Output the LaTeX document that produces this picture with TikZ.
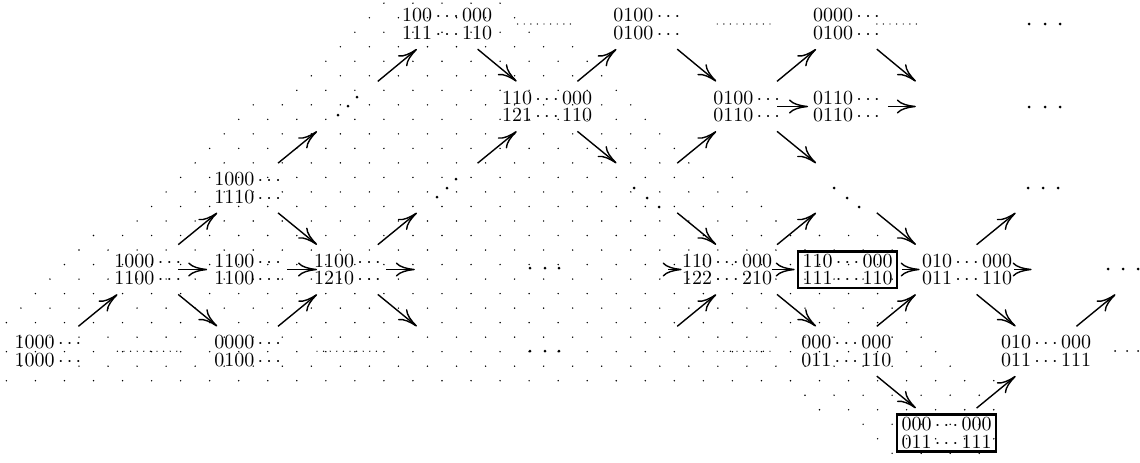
\documentclass[tikz,border=0pt]{standalone}
\usetikzlibrary{arrows.meta}
\begin{document}
\begin{tikzpicture}[x=0.5pt,y=-0.5pt,
  pn/.style={rectangle, minimum width=30pt, minimum height=25pt, inner sep=0pt},
  tn/.style={inner sep=0pt, align=center, font=\fontsize{10}{8.9}\selectfont},
  bx/.style={tn, draw, line width=1.3pt, minimum width=49.5pt, minimum height=18.3pt},
  ar/.style={-{Computer Modern Rightarrow[length=9.5pt,width=7pt]}, line width=0.7pt},
  dl/.style={line width=0.7pt, line cap=round, dash pattern=on 0pt off 3.3pt},
  bigdot/.style={fill=black},
]
\useasboundingbox (0,0) rectangle (1140,462);

% background lattice of dots
\foreach \j/\a/\b in {26/26/34, 25/25/35, 24/24/36, 23/23/39, 22/22/40, 21/21/41,
  20/20/42, 19/17/43, 18/16/44, 17/15/45, 16/14/46, 15/13/47, 14/12/50, 13/11/51,
  12/10/52, 11/9/53, 10/6/60, 9/5/61, 8/4/60, 7/3/61, 6/2/60, 5/1/61, 4/0/62,
  3/1/63, 2/0/64, 1/1/65, 0/0/68, -1/55/67, -2/56/68, -3/59/67, -4/60/68, -5/61/67}{
  \pgfmathtruncatemacro{\n}{(\b-\a)/2}
  \foreach \k in {0,...,\n}{
    \fill ({6.4+14.52*(\a+2*\k)},{380.7-14.52*(\j)}) circle (0.4pt);
  }
}

% grid positions
\foreach \c in {0,...,11}{
  \foreach \r/\y in {0/24,1/106.5,2/188,3/269.5,4/351.2,5/433}{
    \node[pn] (p\c-\r) at ({48+99.8*\c},\y) {};
  }
}

% text nodes
\node[tn] (A0) at (p4-0) {$100\cdots000$\\$111\cdots110$};
\node[tn] (B0) at (p6-0) {$0100\cdots$\\$0100\cdots$};
\node[tn] (C0) at (p8-0) {$0000\cdots$\\$0100\cdots$};
\node[tn] (A1) at (p5-1) {$110\cdots000$\\$121\cdots110$};
\node[tn] (B1) at (p7-1) {$0100\cdots$\\$0110\cdots$};
\node[tn] (C1) at (p8-1) {$0110\cdots$\\$0110\cdots$};
\node[tn] (A2) at (p2-2) {$1000\cdots$\\$1110\cdots$};
\node[tn] (A3) at (p1-3) {$1000\cdots$\\$1100\cdots$};
\node[tn] (B3) at (p2-3) {$1100\cdots$\\$1100\cdots$};
\node[tn] (C3) at (p3-3) {$1100\cdots$\\$1210\cdots$};
\node[tn] (D3) at (727,269.5) {$110\cdots000$\\$122\cdots210$};
\node[bx] (X1) at (847.5,269.5) {$110\cdots000$\\$111\cdots110$};
\node[tn] (E3) at (967,269.5) {$010\cdots000$\\$011\cdots110$};
\node[tn] (A4) at (p0-4) {$1000\cdots$\\$1000\cdots$};
\node[tn] (B4) at (p2-4) {$0000\cdots$\\$0100\cdots$};
\node[tn] (C4) at (p8-4) {$000\cdots000$\\$011\cdots110$};
\node[tn] (D4) at (p10-4) {$010\cdots000$\\$011\cdots111$};
\node[bx] (X2) at (946.5,433) {$000\cdots000$\\$011\cdots111$};

% arrows
\draw[ar] (p0-4) -- (p1-3);
\draw[ar] (p1-3) -- (p2-2);
\draw[ar,shorten >=5pt] (p1-3) -- (p2-3);
\draw[ar] (p1-3) -- (p2-4);
\draw[ar] (p2-2) -- (p3-1);
\draw[ar] (p2-2) -- (p3-3);
\draw[ar,shorten <=4.5pt] (p2-3) -- (p3-3);
\draw[ar] (p2-4) -- (p3-3);
\draw[ar] (p3-3) -- (p4-2);
\draw[ar,shorten <=4pt,shorten >=1pt] (p3-3) -- (p4-3);
\draw[ar] (p3-3) -- (p4-4);
\draw[ar] (p3-1) -- (p4-0);
\draw[ar] (p4-0) -- (p5-1);
\draw[ar] (p4-2) -- (p5-1);
\draw[ar] (p5-1) -- (p6-0);
\draw[ar] (p5-1) -- (p6-2);
\draw[ar] (p6-0) -- (p7-1);
\draw[ar] (p6-2) -- (p7-1);
\draw[ar] (p6-2) -- (p7-3);
\draw[ar,shorten <=-4.5pt] (p6-3) -- (D3);
\draw[ar] (p6-4) -- (p7-3);
\draw[ar,shorten >=4pt] (p7-1) -- (p8-1);
\draw[ar] (p7-1) -- (p8-0);
\draw[ar] (p7-1) -- (p8-2);
\draw[ar] (p8-0) -- (p9-1);
\draw[ar,shorten <=5.5pt] (p8-1) -- (p9-1);
\draw[ar,shorten >=1pt] (D3) -- (X1);
\draw[ar] (p7-3) -- (p8-2);
\draw[ar] (p7-3) -- (p8-4);
\draw[ar] (p8-2) -- (p9-3);
\draw[ar,shorten <=2pt,shorten >=1pt] (X1) -- (E3);
\draw[ar] (p8-4) -- (p9-3);
\draw[ar] (p8-4) -- (p9-5);
\draw[ar] (p9-5) -- (p10-4);
\draw[ar,shorten <=1pt,shorten >=-8pt] (E3) -- (p10-3);
\draw[ar] (p9-3) -- (p10-2);
\draw[ar] (p9-3) -- (p10-4);
\draw[ar] (p10-4) -- (p11-3);

% dotted ellipses between entries
\draw[dl,shorten <=20pt,shorten >=20pt] (p4-0) -- (p6-0);
\draw[dl,shorten <=20pt,shorten >=20pt] (p6-0) -- (p8-0);
\draw[dl,shorten >=48.5pt] (p8-0) -- (p10-0);
\draw[dl,shorten <=19.5pt,shorten >=17.5pt] (p0-4) -- (p2-4);
\draw[dl,shorten <=19.5pt,shorten >=17pt] (p2-4) -- (p4-4);
\draw[dl,shorten <=20pt,shorten >=21.5pt] (p6-4) -- (p8-4);

% big dots (ellipses)
\foreach \x/\y in {338/115,348/106,357/97, 437/197,447/188,456/179,
  634/188,647/198,659/207, 834/188,847/198,859/207,
  530/268,545/268,559/268, 530/351,545/351,559/351,
  1029/24,1045/24,1060/24, 1029/107,1045/107,1060/107,
  1028/188,1043/188,1058/188, 1108/269,1123/269,1138/269}{
  \fill[bigdot] (\x,\y) circle (0.75pt);
}
\foreach \x/\y in {1115/351,1127/351,1138/351}{
  \fill[bigdot] (\x,\y) circle (0.5pt);
}
\end{tikzpicture}
\end{document}
